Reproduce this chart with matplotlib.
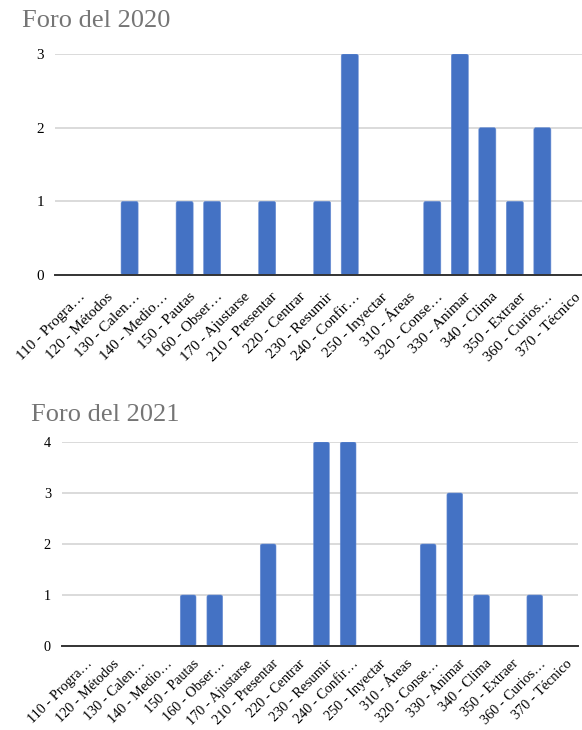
import matplotlib
matplotlib.use("Agg")
import matplotlib.pyplot as plt
from matplotlib.ticker import MultipleLocator
from matplotlib.patches import FancyBboxPatch
from matplotlib.transforms import ScaledTranslation

categories = [
    "110 - Progra…", "120 - Métodos", "130 - Calen…", "140 - Medio…",
    "150 - Pautas", "160 - Obser…", "170 - Ajustarse", "210 - Presentar",
    "220 - Centrar", "230 - Resumir", "240 - Confir…", "250 - Inyectar",
    "310 - Áreas", "320 - Conse…", "330 - Animar", "340 - Clima",
    "350 - Extraer", "360 - Curios…", "370 - Técnico",
]
values_2020 = [0, 0, 1, 0, 1, 1, 0, 1, 0, 1, 3, 0, 0, 1, 3, 2, 1, 2, 0]
values_2021 = [0, 0, 0, 0, 1, 1, 0, 2, 0, 4, 4, 0, 0, 2, 3, 1, 0, 1, 0]

BAR = "#4472C4"
GRID = "#d4d4d4"
BASE = "#333333"
SERIF = ["Liberation Serif", "DejaVu Serif"]

W, H = 582, 730
fig = plt.figure(figsize=(W / 100, H / 100), dpi=100)


def px_axes(left, right, top, bottom):
    return fig.add_axes([left / W, 1 - bottom / H, (right - left) / W, (bottom - top) / H])


def draw(ax, values, ymax, xlim, width, box, fs, shift_px):
    x = list(range(len(categories)))
    ax.set_xlim(*xlim)
    ax.set_ylim(0, ymax)
    bars = ax.bar(x, values, width=width, color=BAR, zorder=3)
    # swap the plain rectangles for slightly rounded ones
    left, right, top, bottom = box
    xpx = (right - left) / (xlim[1] - xlim[0])
    ypx = (bottom - top) / ymax
    r = 2.0 / xpx
    for rect in bars:
        h = rect.get_height()
        rect.set_visible(False)
        if h <= 0:
            continue
        fb = FancyBboxPatch((rect.get_x(), 0), rect.get_width(), h,
                            boxstyle=f"round,pad=0,rounding_size={r}",
                            mutation_aspect=xpx / ypx,
                            facecolor=BAR, edgecolor="#6a8fd4", linewidth=0.4, zorder=3)
        ax.add_patch(fb)
    ax.yaxis.set_major_locator(MultipleLocator(1))
    ax.grid(axis="y", color=GRID, linewidth=1.2, zorder=0)
    for s in ("top", "right", "left"):
        ax.spines[s].set_visible(False)
    ax.spines["bottom"].set_color(BASE)
    ax.spines["bottom"].set_linewidth(1.4)
    ax.spines["bottom"].set_zorder(4)
    ax.tick_params(axis="both", length=0)
    ax.tick_params(axis="y", pad=8)
    ax.tick_params(axis="x", pad=6)
    ax.set_xticks(x)
    ax.set_xticklabels(categories, rotation=45, ha="right", rotation_mode="anchor",
                       family=SERIF, fontsize=fs)
    shift = ScaledTranslation(shift_px[0] / 100, shift_px[1] / 100, fig.dpi_scale_trans)
    for t in ax.get_xticklabels():
        t.set_transform(t.get_transform() + shift)
    for t in ax.get_yticklabels():
        t.set_family(SERIF)
        t.set_fontsize(fs)


box1 = (55, 582, 54, 275)
ax1 = px_axes(*box1)
draw(ax1, values_2020, 3, (-0.71, 18.44), 0.62, box1, 10.9, (4, -7))

box2 = (62, 578, 442, 646)
ax2 = px_axes(*box2)
draw(ax2, values_2021, 4, (-0.73, 18.62), 0.59, box2, 10.3, (4, -3))

fig.text(22 / W, 1 - 26.7 / H, "Foro del 2020", family=SERIF, fontsize=19,
         color="#757575", va="baseline", ha="left")
fig.text(31 / W, 1 - 420.7 / H, "Foro del 2021", family=SERIF, fontsize=19,
         color="#757575", va="baseline", ha="left")

fig.savefig("out.png", dpi=100)
